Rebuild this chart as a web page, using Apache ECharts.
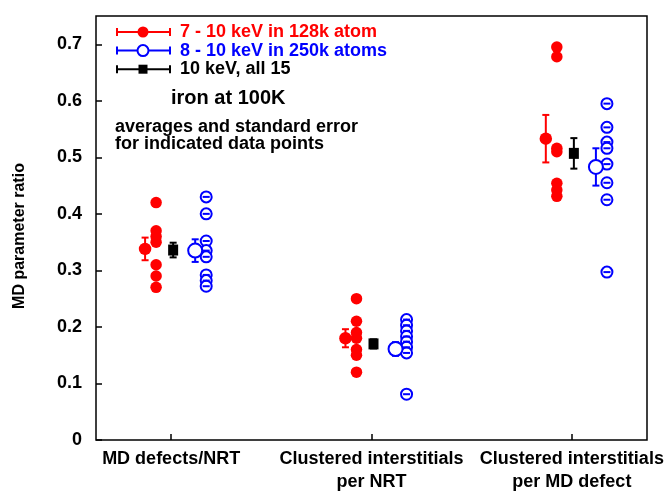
<!DOCTYPE html>
<html>
<head>
<meta charset="utf-8">
<script src="https://cdn.jsdelivr.net/npm/echarts@6/dist/echarts.min.js"></script>
<style>html,body{margin:0;padding:0;background:#fff;}#c{width:667px;height:491px;}</style>
</head>
<body>
<div id="c"></div>
<script>
// ---- data ----
const categories = ['MD defects/NRT', 'Clustered interstitials\nper NRT', 'Clustered interstitials\nper MD defect'];
const catPos = [1, 2, 3];
const yTicks = [0, 0.1, 0.2, 0.3, 0.4, 0.5, 0.6, 0.7];
const yTickLabels = ['0', '0.1', '0.2', '0.3', '0.4', '0.5', '0.6', '0.7'];

const red128k = [
  [0.42, 0.37, 0.36, 0.35, 0.31, 0.29, 0.27],
  [0.25, 0.21, 0.19, 0.18, 0.16, 0.15, 0.12],
  [0.695, 0.678, 0.516, 0.51, 0.454, 0.442, 0.431]
];
const blue250k = [
  [0.43, 0.40, 0.352, 0.335, 0.324, 0.292, 0.282, 0.272],
  [0.213, 0.203, 0.193, 0.183, 0.174, 0.164, 0.154, 0.081],
  [0.595, 0.553, 0.527, 0.516, 0.488, 0.455, 0.425, 0.297]
];
const redMean = [0.338, 0.180, 0.533];
const redErr = [0.020, 0.016, 0.042];
const blackMean = [0.336, 0.170, 0.507];
const blackErr = [0.013, 0.008, 0.027];
const blueMean = [0.335, 0.161, 0.483];
const blueErr = [0.020, 0.012, 0.033];

const legendNames = ['7 - 10 keV in 128k atom', '8 - 10 keV in 250k atoms', '10 keV, all 15'];
const noteTitle = 'iron at 100K';
const noteText = 'averages and standard error\nfor indicated data points';
const yName = 'MD parameter ratio';

// ---- layout (horizontal offsets within a category) ----
const OFF = { redPts: -0.075, redMean: -0.13, black: 0.01, blueMean: 0.12, bluePts: 0.175 };
const RED = '#ff0000', BLUE = '#0000ff', BLACK = '#000000';
const FONT = '"Liberation Sans", Arial, Helvetica, sans-serif';

function pts(groups, off) {
  const out = [];
  groups.forEach((g, i) => g.forEach(v => out.push([catPos[i] + off, v])));
  return out;
}
function means(m, e, off) {
  return m.map((v, i) => [catPos[i] + off, v, e[i]]);
}

function errRender(color) {
  return function (params, api) {
    const x = api.value(0), y = api.value(1), e = api.value(2);
    const lo = api.coord([x, y - e]), hi = api.coord([x, y + e]);
    const cw = 3.5;
    const st = { stroke: color, lineWidth: 2 };
    return {
      type: 'group',
      children: [
        { type: 'line', shape: { x1: lo[0], y1: lo[1], x2: hi[0], y2: hi[1] }, style: st },
        { type: 'line', shape: { x1: lo[0] - cw, y1: lo[1], x2: lo[0] + cw, y2: lo[1] }, style: st },
        { type: 'line', shape: { x1: hi[0] - cw, y1: hi[1], x2: hi[0] + cw, y2: hi[1] }, style: st }
      ]
    };
  };
}

// legend graphics
function legendItem(i, color, symbol) {
  const y = 32 + i * 18.6;
  const st = { stroke: color, lineWidth: 2 };
  const children = [
    { type: 'line', shape: { x1: 117, y1: y, x2: 170, y2: y }, style: st },
    { type: 'line', shape: { x1: 117, y1: y - 4, x2: 117, y2: y + 4 }, style: st },
    { type: 'line', shape: { x1: 170, y1: y - 4, x2: 170, y2: y + 4 }, style: st }
  ];
  if (symbol === 'dot') children.push({ type: 'circle', shape: { cx: 143, cy: y, r: 5.5 }, style: { fill: color } });
  if (symbol === 'ring') children.push({ type: 'circle', shape: { cx: 143, cy: y, r: 5.5 }, style: { fill: '#fff', stroke: color, lineWidth: 2 } });
  if (symbol === 'square') children.push({ type: 'rect', shape: { x: 138.5, y: y - 4.5, width: 9, height: 9 }, style: { fill: color } });
  children.push({ type: 'text', x: 180, y: y, style: { text: legendNames[i], fill: color, font: 'bold 18px ' + FONT, textVerticalAlign: 'middle' } });
  return { type: 'group', children };
}

const chart = echarts.init(document.getElementById('c'), null, { renderer: 'canvas' });
chart.setOption({
  animation: false,
  backgroundColor: '#fff',
  grid: { left: 96, right: 20, top: 16, bottom: 51, outerBoundsMode: 'none', containLabel: false, show: true, borderColor: '#000', borderWidth: 1.5, backgroundColor: 'transparent' },
  xAxis: {
    type: 'value', min: 0.625, max: 3.375,
    splitLine: { show: false },
    axisLine: { show: false },
    axisTick: { show: true, inside: true, length: 6, customValues: catPos, lineStyle: { color: '#000', width: 1.5 } },
    axisLabel: {
      customValues: catPos,
      formatter: v => categories[catPos.indexOf(v)],
      color: '#000', fontWeight: 'bold', fontSize: 18, fontFamily: FONT, margin: 8, lineHeight: 23
    }
  },
  yAxis: {
    type: 'value', min: 0, max: 0.75,
    name: yName, nameLocation: 'middle', nameRotate: 90, nameGap: 68,
    nameTextStyle: { color: '#000', fontWeight: 'bold', fontSize: 16, fontFamily: FONT, padding: [0, 0, 0, -16] },
    splitLine: { show: false },
    axisLine: { show: false },
    axisTick: { show: true, inside: true, length: 6, customValues: yTicks, lineStyle: { color: '#000', width: 1.5 } },
    axisLabel: {
      customValues: yTicks,
      formatter: v => yTickLabels[yTicks.indexOf(v)] !== undefined ? yTickLabels[yTicks.indexOf(v)] : '',
      color: '#000', fontWeight: 'bold', fontSize: 18, fontFamily: FONT, margin: 14
    }
  },
  graphic: [
    legendItem(0, RED, 'dot'),
    legendItem(1, BLUE, 'ring'),
    legendItem(2, BLACK, 'square'),
    { type: 'text', x: 171, y: 98, style: { text: noteTitle, fill: '#000', font: 'bold 20px ' + FONT, textVerticalAlign: 'middle' } },
    { type: 'text', x: 115, y: 119, style: { text: noteText, fill: '#000', font: 'bold 18px ' + FONT, lineHeight: 16.5 } }
  ],
  series: [
    { type: 'custom', renderItem: errRender(RED), data: means(redMean, redErr, OFF.redMean), z: 2 },
    { type: 'custom', renderItem: errRender(BLACK), data: means(blackMean, blackErr, OFF.black), z: 2 },
    { type: 'custom', renderItem: errRender(BLUE), data: means(blueMean, blueErr, OFF.blueMean), z: 2 },
    { type: 'scatter', data: pts(red128k, OFF.redPts), symbol: 'circle', symbolSize: 11.5, itemStyle: { color: RED, opacity: 1 }, z: 3 },
    { type: 'scatter', data: pts(blue250k, OFF.bluePts), symbol: 'emptyCircle', symbolSize: 11, itemStyle: { color: BLUE, borderColor: BLUE, borderWidth: 2, opacity: 1 }, z: 3 },
    { type: 'scatter', data: pts(blue250k, OFF.bluePts), symbol: 'rect', symbolSize: [7, 2], itemStyle: { color: BLUE, opacity: 1 }, z: 4 },
    { type: 'scatter', data: means(redMean, redErr, OFF.redMean), symbol: 'circle', symbolSize: 12.5, itemStyle: { color: RED, opacity: 1 }, z: 5 },
    { type: 'scatter', data: means(blackMean, blackErr, OFF.black), symbol: 'rect', symbolSize: [10, 11], itemStyle: { color: BLACK, opacity: 1 }, z: 5 },
    { type: 'scatter', data: means(blueMean, blueErr, OFF.blueMean), symbol: 'emptyCircle', symbolSize: 14, itemStyle: { color: BLUE, borderColor: BLUE, borderWidth: 2, opacity: 1 }, z: 5 }
  ]
});
</script>
</body>
</html>
